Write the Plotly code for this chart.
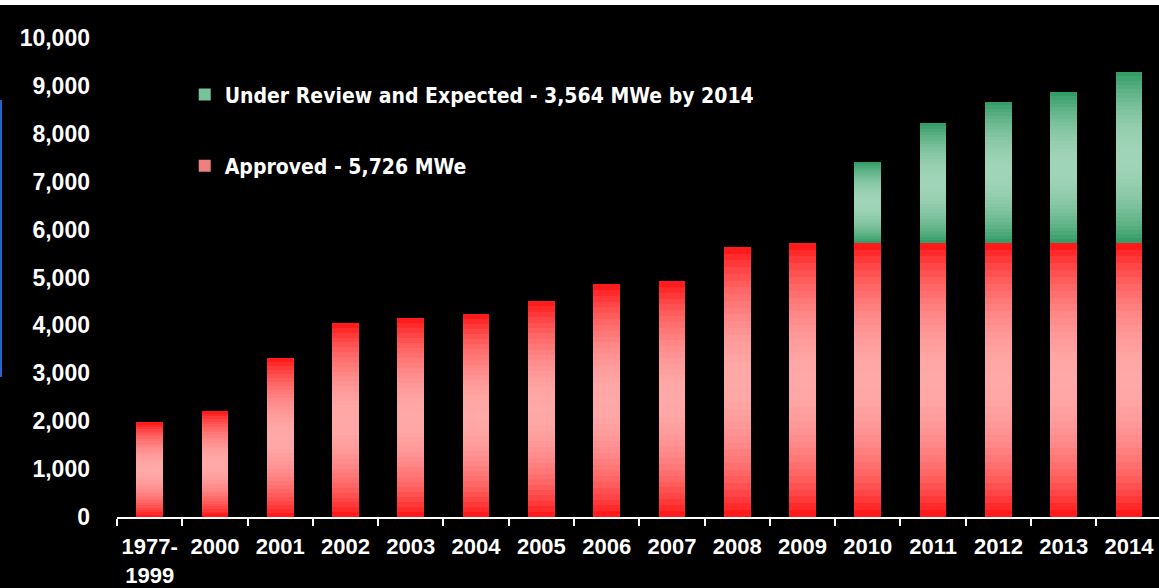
import math
import plotly.graph_objects as go

# Cumulative capacity (MWe) by year
categories = ["1977-1999", "2000", "2001", "2002", "2003", "2004", "2005", "2006",
              "2007", "2008", "2009", "2010", "2011", "2012", "2013", "2014"]
tick_labels = ["1977-<br>1999", "2000", "2001", "2002", "2003", "2004", "2005", "2006",
               "2007", "2008", "2009", "2010", "2011", "2012", "2013", "2014"]
approved = [1980, 2210, 3320, 4050, 4150, 4240, 4510, 4860,
            4930, 5640, 5726, 5726, 5726, 5726, 5726, 5726]
under_review = [0, 0, 0, 0, 0, 0, 0, 0,
                0, 0, 0, 1685, 2506, 2944, 3140, 3564]

y_ticks = [0, 1000, 2000, 3000, 4000, 5000, 6000, 7000, 8000, 9000, 10000]

legend_names = ["Under Review and Expected - 3,564 MWe by 2014", "Approved - 5,726 MWe"]

RED_EDGE, RED_MID = (255, 16, 16), (255, 168, 168)
GREEN_EDGE, GREEN_MID = (44, 152, 96), (160, 212, 184)
N_SLICES = 40


def band_color(edge, mid, t):
    """Colour of a horizontal band at relative height t (0 bottom, 1 top)."""
    w = math.sin(math.pi * t) ** 0.8
    r, g, b = (round(e + (m - e) * w) for e, m in zip(edge, mid))
    return f"rgb({r},{g},{b})"


fig = go.Figure()

# legend entries
fig.add_trace(go.Bar(x=[categories[0]], y=[None], name=legend_names[0],
                     legendgroup="review", marker=dict(color="rgb(120,196,154)", line_width=0)))
fig.add_trace(go.Bar(x=[categories[0]], y=[None], name=legend_names[1],
                     legendgroup="approved", marker=dict(color="rgb(240,128,128)", line_width=0)))

# each bar is drawn as a stack of thin bands to give a vertical shading
for series, edge, mid, grp in [(approved, RED_EDGE, RED_MID, "approved"),
                               (under_review, GREEN_EDGE, GREEN_MID, "review")]:
    for k in range(N_SLICES):
        t = (k + 0.5) / N_SLICES
        fig.add_trace(go.Bar(
            x=categories,
            y=[v / N_SLICES for v in series],
            marker=dict(color=band_color(edge, mid, t), line_width=0),
            legendgroup=grp, showlegend=False, hoverinfo="skip",
        ))

fig.update_layout(
    width=1159, height=588,
    margin=dict(l=117, r=0, t=38, b=71, autoexpand=False),
    paper_bgcolor="black", plot_bgcolor="black",
    barmode="stack", bargap=0.59,
    font=dict(family="Liberation Sans, Arial, sans-serif", color="white"),
    legend=dict(
        x=0.065, y=0.924, xanchor="left", yanchor="top",
        bgcolor="rgba(0,0,0,0)", traceorder="grouped", tracegroupgap=41,
        font=dict(family="DejaVu Sans Condensed, Liberation Sans, sans-serif",
                  size=21, color="white", weight="bold"),
        itemwidth=30,
    ),
    xaxis=dict(
        type="category", range=[-0.5, 15.46], automargin=False,
        tickvals=categories, ticktext=tick_labels, tickson="boundaries",
        ticks="outside", ticklen=7, tickwidth=1.5, tickcolor="white", tickangle=0,
        showline=True, linecolor="white", linewidth=2,
        showgrid=False, zeroline=False,
        tickfont=dict(size=22, color="white", weight="bold"),
        ticklabelstandoff=9,
    ),
    yaxis=dict(
        range=[0, 10000], tickvals=y_ticks, tickformat=",", automargin=False,
        showgrid=False, zeroline=False, showline=False, ticks="",
        tickfont=dict(size=23, color="white", weight="bold"),
        ticklabelstandoff=26,
    ),
    shapes=[
        dict(type="rect", xref="paper", yref="paper",
             x0=-117 / 1042, x1=1.0, y0=(517 - 5) / 479, y1=517 / 479,
             fillcolor="white", line_width=0, layer="above"),
        dict(type="line", xref="paper", yref="paper",
             x0=-116 / 1042, x1=-116 / 1042, y0=(517 - 377) / 479, y1=(517 - 100) / 479,
             line=dict(color="rgb(40,100,200)", width=2)),
    ],
)

fig.write_html("out.html")
